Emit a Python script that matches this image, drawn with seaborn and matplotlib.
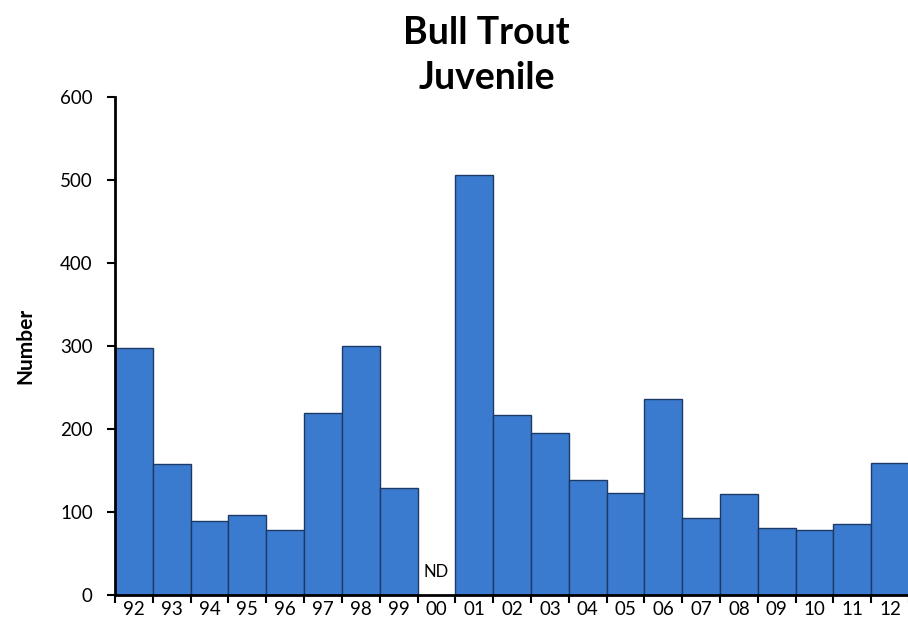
import numpy as np
import pandas as pd
import matplotlib
matplotlib.use("Agg")
import matplotlib.pyplot as plt
import seaborn as sns

years = ["92", "93", "94", "95", "96", "97", "98", "99", "00", "01", "02",
         "03", "04", "05", "06", "07", "08", "09", "10", "11", "12"]
counts = [298, 158, 89, 96, 78, 219, 300, 129, np.nan, 506, 217,
          195, 139, 123, 236, 93, 122, 81, 78, 85, 159]
no_data_label = "ND"
y_ticks = [0, 100, 200, 300, 400, 500, 600]

sns.set_theme(style="white")
plt.rcParams["font.family"] = ["Lato", "DejaVu Sans"]
plt.rcParams["text.color"] = "black"
plt.rcParams["xtick.color"] = "black"
plt.rcParams["ytick.color"] = "black"
plt.rcParams["axes.labelcolor"] = "black"

df = pd.DataFrame({"Year": years, "Count": counts})

fig = plt.figure(figsize=(9.08, 6.41), dpi=100)
ax = fig.add_axes([0.1267, 0.0718, 0.8745, 0.7769])

sns.barplot(data=df, x="Year", y="Count", order=years, width=1.0,
            color="#3b7bcf", saturation=1, edgecolor="#1d3a66",
            linewidth=1.0, ax=ax)

ax.set_xlim(-0.5, len(years) - 0.5)
ax.set_ylim(0, 600)
ax.set_yticks(y_ticks)
ax.tick_params(axis="y", labelsize=13.5, length=6, width=1.5, direction="out",
               left=True, pad=10)

# tick marks sit between the bars, labels under the bars
ax.set_xticks(np.arange(len(years)), labels=years, minor=True)
ax.set_xticks(np.arange(len(years) + 1) - 0.5, labels=[])
ax.tick_params(axis="x", which="minor", length=0, labelsize=13.5, pad=4)
ax.tick_params(axis="x", which="major", length=6, width=1.5, direction="out",
               bottom=True)

for s in ["top", "right"]:
    ax.spines[s].set_visible(False)
for s in ["left", "bottom"]:
    ax.spines[s].set_color("black")
    ax.spines[s].set_linewidth(2)

ax.set_xlabel("")
ax.set_ylabel("Number", fontsize=15, fontweight="bold", labelpad=18)

nd_idx = years.index("00")
ax.text(nd_idx, 18, no_data_label, ha="center", va="bottom", fontsize=12)

fig.text(0.536, 0.975, "Bull Trout\nJuvenile", ha="center", va="top",
         fontsize=27, fontweight="bold", linespacing=1.4)

fig.savefig("out.png", dpi=100)
